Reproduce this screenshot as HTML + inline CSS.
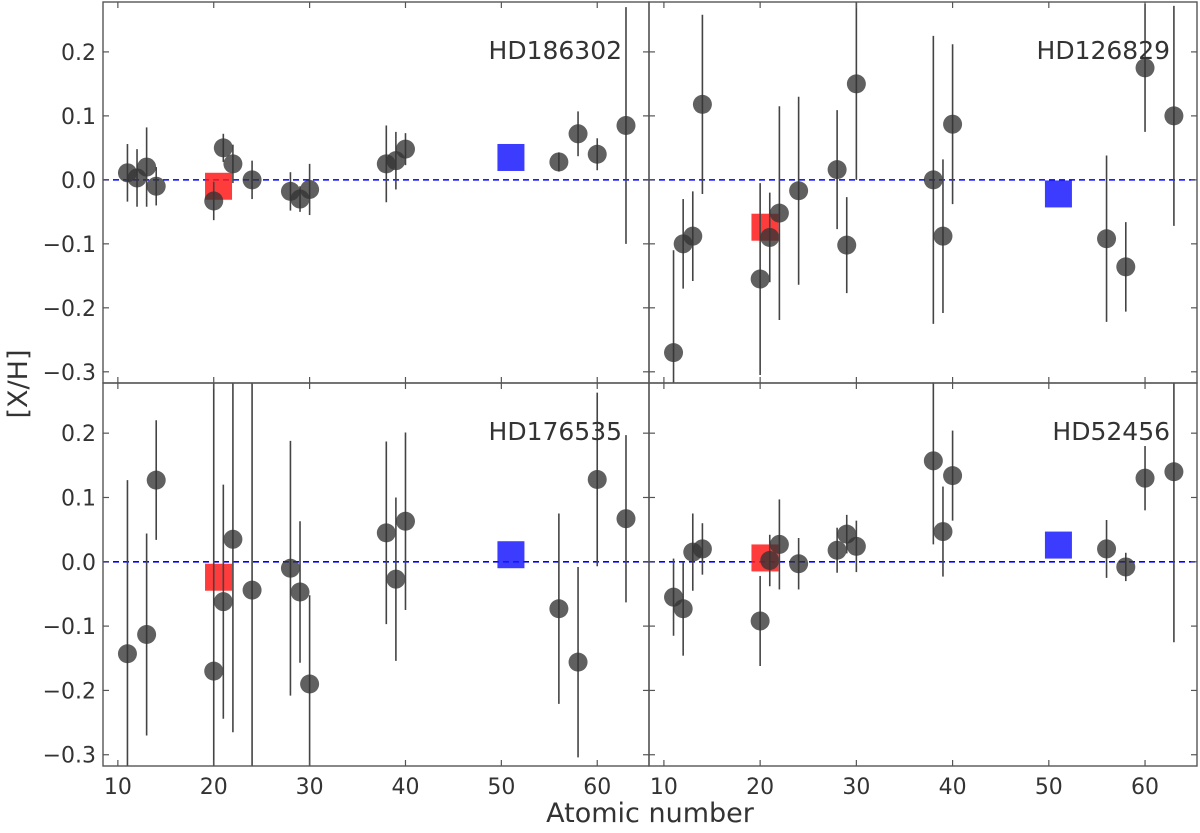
<!DOCTYPE html>
<html><head><meta charset="utf-8"><style>
html,body{margin:0;padding:0;background:#fff;width:1200px;height:833px;overflow:hidden;}
svg{display:block;font-family:"DejaVu Sans","Liberation Sans",sans-serif;overflow:hidden;}
</style></head><body>
<svg id="chart" width="1200" height="833" viewBox="0 0 1200 833"></svg>
<script>
const Z = [11,12,13,14,20,21,22,24,28,29,30,38,39,40,56,58,60,63];
const starNames = ["HD186302","HD126829","HD176535","HD52456"];
const valsA = [0.011,0.003,0.02,-0.01,-0.033,0.05,0.025,0.0,-0.018,-0.03,-0.015,0.025,0.03,0.048,0.028,0.072,0.04,0.085];
const errsA = [0.045,0.045,0.062,0.03,0.03,0.022,0.03,0.03,0.03,0.02,0.04,0.06,0.045,0.025,0.015,0.035,0.025,0.185];
const valsB = [-0.27,-0.1,-0.088,0.118,-0.155,-0.09,-0.052,-0.017,0.016,-0.102,0.15,0.0,-0.088,0.087,-0.092,-0.136,0.175,0.1];
const errsB = [0.16,0.07,0.07,0.14,0.15,0.07,0.167,0.147,0.093,0.075,0.15,0.225,0.12,0.125,0.13,0.07,0.1,0.172];
const valsC = [-0.143,null,-0.113,0.127,-0.17,-0.062,0.035,-0.044,-0.01,-0.047,-0.19,0.045,-0.027,0.063,-0.073,-0.156,0.128,0.067];
const errsC = [0.27,0,0.157,0.093,0.45,0.182,0.3,0.35,0.198,0.11,0.138,0.142,0.127,0.138,0.148,0.148,0.135,0.13];
const valsD = [-0.055,-0.073,0.015,0.02,-0.092,0.002,0.027,-0.003,0.018,0.043,0.024,0.157,0.047,0.134,0.02,-0.008,0.13,0.14];
const errsD = [0.06,0.073,0.06,0.04,0.07,0.04,0.07,0.04,0.035,0.03,0.04,0.13,0.07,0.07,0.045,0.022,0.05,0.265];
const redZ = 20.5, blueZ = 51;
const redVals = [-0.01,-0.074,-0.024,0.006];
const blueVals = [0.035,-0.022,0.011,0.026];
const xTicks = [10,20,30,40,50,60];
const yTicks = [0.2,0.1,0.0,-0.1,-0.2,-0.3];
const yTickLabels = ["0.2","0.1","0.0","\u22120.1","\u22120.2","\u22120.3"];

const NS="http://www.w3.org/2000/svg";
const svg=document.getElementById('chart');
function mk(tag,attrs,parent){const e=document.createElementNS(NS,tag);for(const k in attrs)e.setAttribute(k,attrs[k]);(parent||svg).appendChild(e);return e;}

const panels=[
 {x0:103,x1:649,y0:2,y1:383,vals:valsA,errs:errsA,left:true,bottom:false},
 {x0:649,x1:1197,y0:2,y1:383,vals:valsB,errs:errsB,left:false,bottom:false},
 {x0:103,x1:649,y0:383,y1:766,vals:valsC,errs:errsC,left:true,bottom:true},
 {x0:649,x1:1197,y0:383,y1:766,vals:valsD,errs:errsD,left:false,bottom:true}
];
const zMin=8.45, zMax=65.4, vMin=-0.3175, vMax=0.278;

panels.forEach((p,i)=>{
  const g=mk('g',{});
  
  
  const sx=z=>p.x0+(z-zMin)/(zMax-zMin)*(p.x1-p.x0);
  const sy=v=>p.y1-(v-vMin)/(vMax-vMin)*(p.y1-p.y0);
  const cl=y=>Math.max(p.y0,Math.min(p.y1,y));
  const clip='clip'+i;
  const cp=mk('clipPath',{id:clip},g);mk('rect',{x:p.x0,y:p.y0,width:p.x1-p.x0,height:p.y1-p.y0},cp);
  const plot=mk('g',{'clip-path':'url(#'+clip+')'},g);
  const zl=mk('line',{x1:p.x0,x2:p.x1,y1:sy(0),y2:sy(0),stroke:'#0000ff','stroke-width':1.6,'stroke-dasharray':'6,4'},plot);
  
  
  const rs=mk('rect',{x:sx(redZ)-13.5,y:sy(redVals[i])-13.5,width:27,height:27,fill:'#ff1a1a','fill-opacity':0.85},plot);
  
  
  const bs=mk('rect',{x:sx(blueZ)-13.5,y:sy(blueVals[i])-13.5,width:27,height:27,fill:'#1a1aff','fill-opacity':0.85},plot);
  
  
  Z.forEach((z,k)=>{
    const v=p.vals[k]; if(v===null) return;
    const e=p.errs[k];
    const eb=mk('line',{x1:sx(z),x2:sx(z),y1:cl(sy(v-e)),y2:cl(sy(v+e)),stroke:'#444','stroke-width':1.6},plot);
    
    
    const c=mk('circle',{cx:sx(z),cy:sy(v),r:9.5,fill:'#333','fill-opacity':0.78},plot);
    
    
  });
  mk('rect',{x:p.x0,y:p.y0,width:p.x1-p.x0,height:p.y1-p.y0,fill:'none',stroke:'#555','stroke-width':1.4},g);
  xTicks.forEach(t=>{
    const x=sx(t);
    mk('line',{x1:x,x2:x,y1:p.y1,y2:p.y1-6,stroke:'#555','stroke-width':1.2},g);
    mk('line',{x1:x,x2:x,y1:p.y0,y2:p.y0+6,stroke:'#555','stroke-width':1.2},g);
    if(p.bottom){
      const tl=mk('text',{x:x,y:p.y1+28,'font-size':22,fill:'#333','text-anchor':'middle'},g);
      tl.textContent=t;
      
      
    }
  });
  yTicks.forEach((t,k)=>{
    const y=sy(t);
    mk('line',{x1:p.x0,x2:p.x0+6,y1:y,y2:y,stroke:'#555','stroke-width':1.2},g);
    mk('line',{x1:p.x1,x2:p.x1-6,y1:y,y2:y,stroke:'#555','stroke-width':1.2},g);
    if(p.left){
      const tl=mk('text',{x:p.x0-7,y:y+8,'font-size':22,fill:'#333','text-anchor':'end'},g);
      tl.textContent=yTickLabels[k];
      
      
    }
  });
  const nm=mk('text',{x:p.x1-27,y:p.y0+57,'font-size':25,fill:'#333','text-anchor':'end'},g);
  nm.textContent=starNames[i];
  
  
});
const xt=mk('text',{x:650,y:822,'font-size':27,fill:'#333','text-anchor':'middle'});
xt.textContent='Atomic number';


const yt=mk('text',{x:0,y:0,'font-size':27,fill:'#333','text-anchor':'middle',transform:'translate(27,384) rotate(-90)'});
yt.textContent='[X/H]';


</script>
</body></html>
